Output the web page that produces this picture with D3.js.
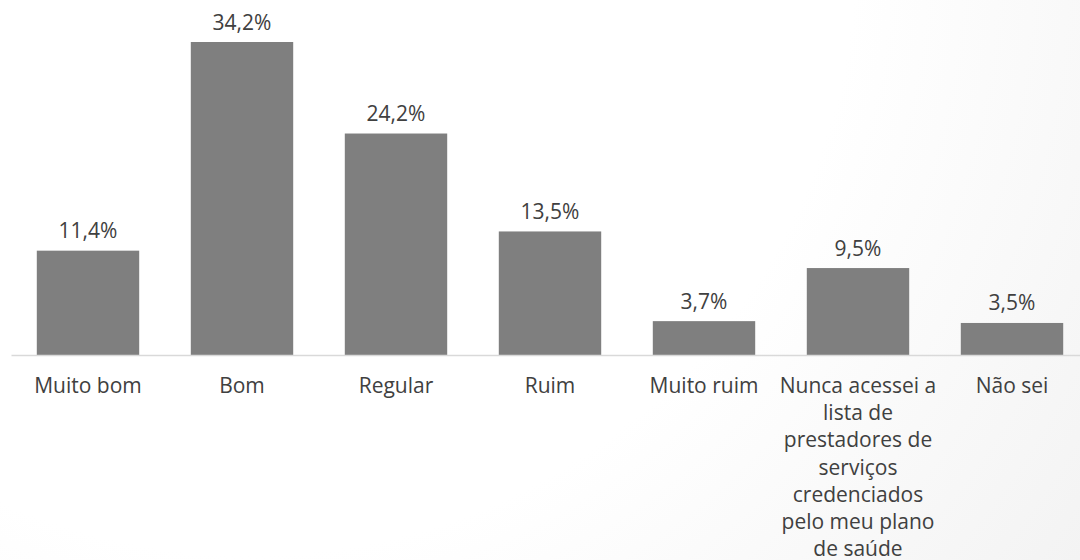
<!DOCTYPE html>
<html>
<head>
<meta charset="utf-8">
<script src="https://cdn.jsdelivr.net/npm/d3@7/dist/d3.min.js"></script>
<style>
  html, body { margin: 0; padding: 0; overflow: hidden; }
  svg { display: block; }
</style>
</head>
<body>
<script>
// Avaliação da lista de prestadores credenciados
const categories = [
  "Muito bom",
  "Bom",
  "Regular",
  "Ruim",
  "Muito ruim",
  "Nunca acessei a\nlista de\nprestadores de\nserviços\ncredenciados\npelo meu plano\nde saúde",
  "Não sei"
];
const values = [11.4, 34.2, 24.2, 13.5, 3.7, 9.5, 3.5];
const valueLabels = ["11,4%", "34,2%", "24,2%", "13,5%", "3,7%", "9,5%", "3,5%"];

const W = 1080, H = 560;
const baseY = 355;
const font = "'Open Sans', 'Noto Sans', sans-serif";
const textColor = "#404040";

const svg = d3.select("body").append("svg")
  .attr("width", W).attr("height", H);

// soft background shading
const defs = svg.append("defs");
const grad = defs.append("radialGradient")
  .attr("id", "bg").attr("gradientUnits", "userSpaceOnUse")
  .attr("cx", 250).attr("cy", -50).attr("r", 1100);
grad.append("stop").attr("offset", "0").attr("stop-color", "#ffffff");
grad.append("stop").attr("offset", "0.55").attr("stop-color", "#ffffff");
grad.append("stop").attr("offset", "1").attr("stop-color", "#f1f1f1");
svg.append("rect").attr("width", W).attr("height", H).attr("fill", "url(#bg)");

const x = d3.scaleBand()
  .domain(categories)
  .range([11, 1089])
  .paddingInner(0.335)
  .paddingOuter(0.1675);

const y = d3.scaleLinear()
  .domain([0, 34.2])
  .range([baseY, 42]);

const data = categories.map((c, i) => ({ cat: c, v: values[i], label: valueLabels[i] }));

// bars
svg.append("g").selectAll("rect")
  .data(data).join("rect")
  .attr("x", d => x(d.cat))
  .attr("y", d => y(d.v))
  .attr("width", x.bandwidth())
  .attr("height", d => y(0) - y(d.v))
  .attr("fill", "#7f7f7f");

// baseline
const axis = d3.axisBottom(x).tickSize(0).tickFormat("");
const gAxis = svg.append("g").attr("transform", `translate(0,${y(0)})`).call(axis);
gAxis.select(".domain").attr("stroke", "#d9d9d9").attr("stroke-width", 1.3);

// value labels
svg.append("g").selectAll("text")
  .data(data).join("text")
  .attr("x", d => x(d.cat) + x.bandwidth() / 2)
  .attr("y", d => y(d.v) - 12.5)
  .attr("text-anchor", "middle")
  .attr("font-family", font)
  .attr("font-size", 21)
  .attr("font-weight", 500)
  .attr("fill", textColor)
  .text(d => d.label);

// category labels (multi-line)
const catG = svg.append("g").selectAll("text")
  .data(data).join("text")
  .attr("text-anchor", "middle")
  .attr("font-family", font)
  .attr("font-size", 21)
  .attr("font-weight", 500)
  .attr("fill", textColor);
catG.each(function(d) {
  const t = d3.select(this);
  const cx = x(d.cat) + x.bandwidth() / 2;
  d.cat.split("\n").forEach((line, i) => {
    t.append("tspan")
      .attr("x", cx)
      .attr("y", 393 + i * 27.2)
      .text(line);
  });
});
</script>
</body>
</html>
